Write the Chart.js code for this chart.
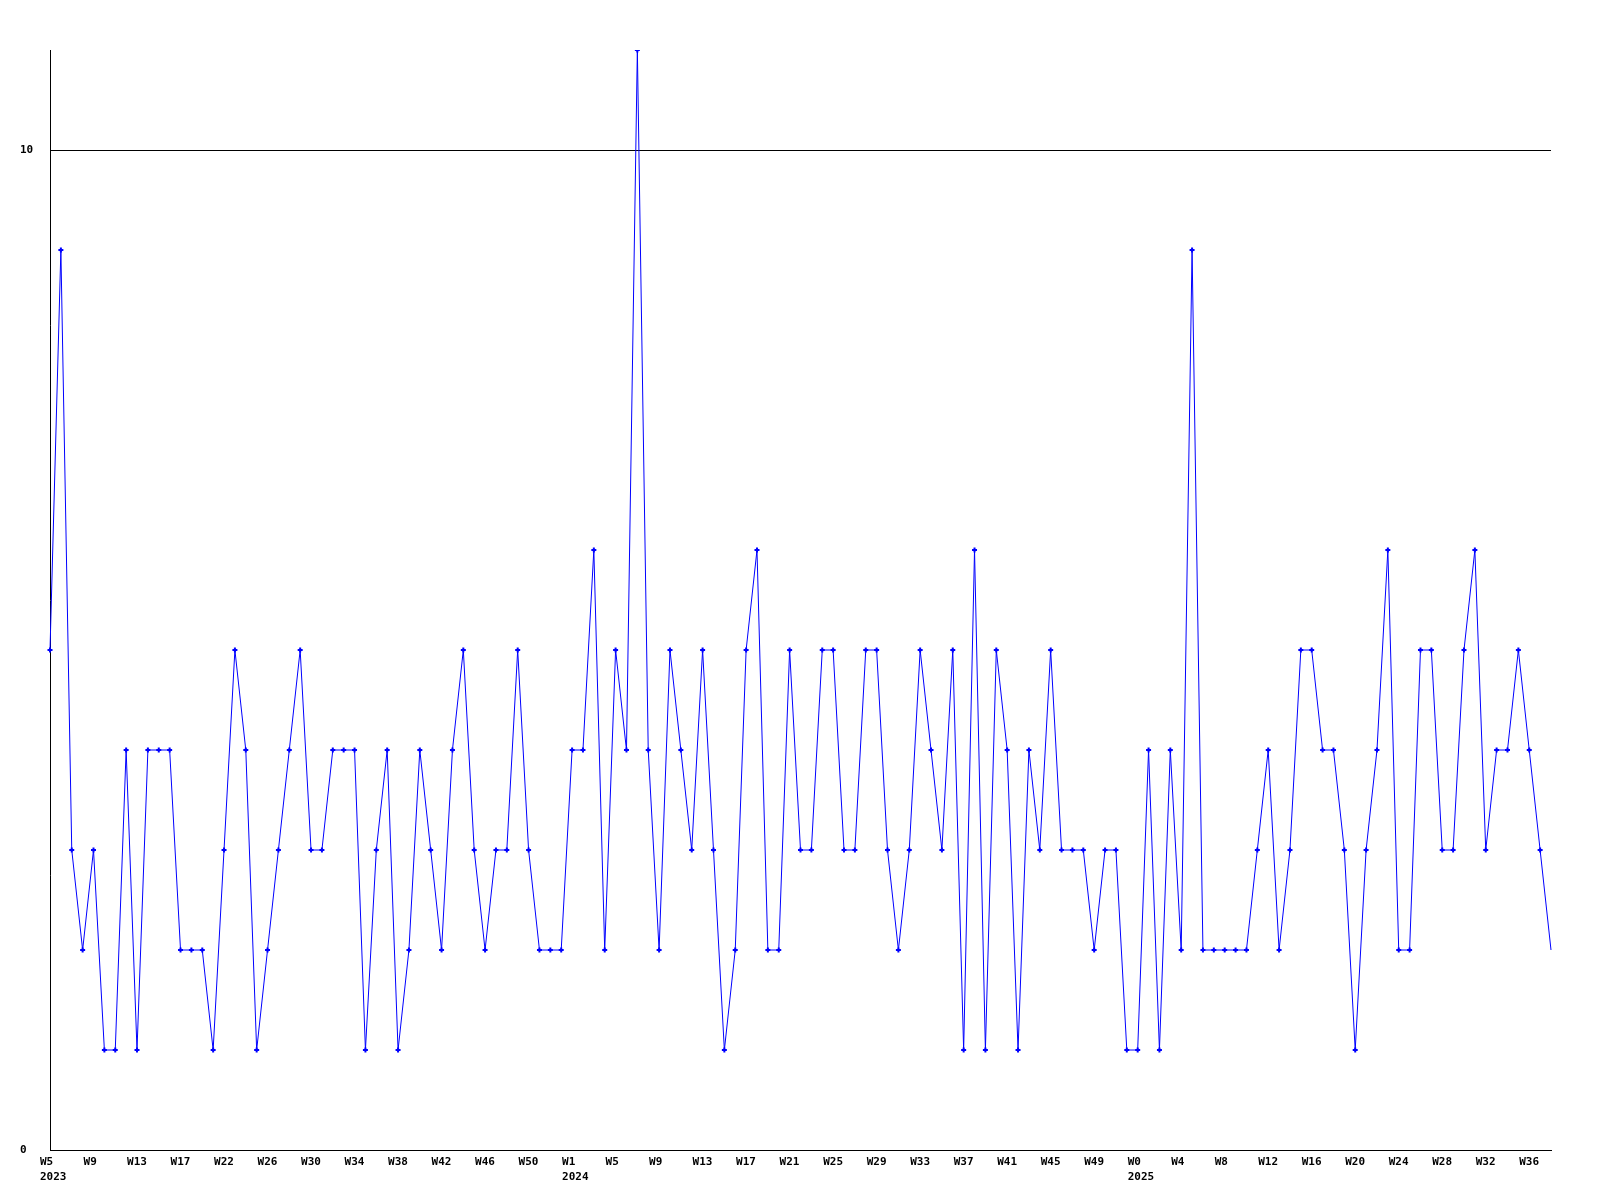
<!DOCTYPE html>
<html>
<head>
<meta charset="utf-8">
<script src="https://cdn.jsdelivr.net/npm/chart.js@4/dist/chart.umd.min.js"></script>
<style>
  body { margin: 0; background: #ffffff; }
  #wrap { width: 1600px; height: 1200px; }
</style>
</head>
<body>
<div id="wrap"><canvas id="chart" width="1600" height="1200"></canvas></div>
<script>
// one value per week, W5 2023 .. W38 2025
const values = [
    5, 9, 3, 2, 3, 1, 1, 4, 1, 4,
    4, 4, 2, 2, 2, 1, 3, 5, 4, 1,
    2, 3, 4, 5, 3, 3, 4, 4, 4, 1,
    3, 4, 1, 2, 4, 3, 2, 4, 5, 3,
    2, 3, 3, 5, 3, 2, 2, 2, 4, 4,
    6, 2, 5, 4, 11, 4, 2, 5, 4, 3,
    5, 3, 1, 2, 5, 6, 2, 2, 5, 3,
    3, 5, 5, 3, 3, 5, 5, 3, 2, 3,
    5, 4, 3, 5, 1, 6, 1, 5, 4, 1,
    4, 3, 5, 3, 3, 3, 2, 3, 3, 1,
    1, 4, 1, 4, 2, 9, 2, 2, 2, 2,
    2, 3, 4, 2, 3, 5, 5, 4, 4, 3,
    1, 3, 4, 6, 2, 2, 5, 5, 3, 3,
    5, 6, 3, 4, 4, 5, 4, 3, 2
];

// a tick label every 4th week, as printed on the reference
const tickLabels = [
    'W5', 'W9', 'W13', 'W17', 'W22', 'W26', 'W30', 'W34', 'W38', 'W42', 'W46', 'W50',
    'W1', 'W5', 'W9', 'W13', 'W17', 'W21', 'W25', 'W29', 'W33', 'W37', 'W41', 'W45', 'W49',
    'W0', 'W4', 'W8', 'W12', 'W16', 'W20', 'W24', 'W28', 'W32', 'W36'
];
// year printed under some of the tick labels (tick index -> year)
const yearLabels = { 0: '2023', 12: '2024', 25: '2025' };
const tickEvery = 4;

const categories = values.map((v, i) => {
    if (i % tickEvery !== 0) return '';
    const t = i / tickEvery;
    if (yearLabels[t]) return [tickLabels[t], yearLabels[t]];
    return tickLabels[t] || '';
});

const font = { family: '"DejaVu Sans Mono", monospace', size: 11, weight: 'bold', lineHeight: 1.4 };
const last = values.length - 1;

new Chart(document.getElementById('chart'), {
    type: 'line',
    data: {
        labels: categories,
        datasets: [{
            data: values,
            borderColor: '#0000ff',
            borderWidth: 1,
            tension: 0,
            pointStyle: 'cross',
            pointRadius: (ctx) => ctx.dataIndex === last ? 0 : 2.5,
            pointBorderWidth: 2,
            pointBorderColor: '#0000ff',
            pointBackgroundColor: '#0000ff'
        }]
    },
    options: {
        responsive: false,
        animation: false,
        events: [],
        layout: {
            padding: { top: 50, right: 49, left: 20, bottom: 0 }
        },
        plugins: {
            legend: { display: false },
            tooltip: { enabled: false }
        },
        scales: {
            x: {
                grid: { display: false, drawTicks: false },
                border: { display: true, color: '#000000', width: 1 },
                ticks: {
                    autoSkip: false,
                    maxRotation: 0,
                    minRotation: 0,
                    align: 'start',
                    labelOffset: -10,
                    padding: 4,
                    color: '#000000',
                    font: font
                },
                afterFit: (scale) => { scale.height = 50; }
            },
            y: {
                min: 0,
                max: 11,
                grid: { color: '#000000', lineWidth: 1, drawTicks: false },
                border: { display: true, color: '#000000', width: 1 },
                ticks: {
                    stepSize: 10,
                    includeBounds: false,
                    crossAlign: 'far',
                    color: '#000000',
                    font: font
                },
                afterFit: (scale) => { scale.width = 30; }
            }
        }
    }
});
</script>
</body>
</html>
